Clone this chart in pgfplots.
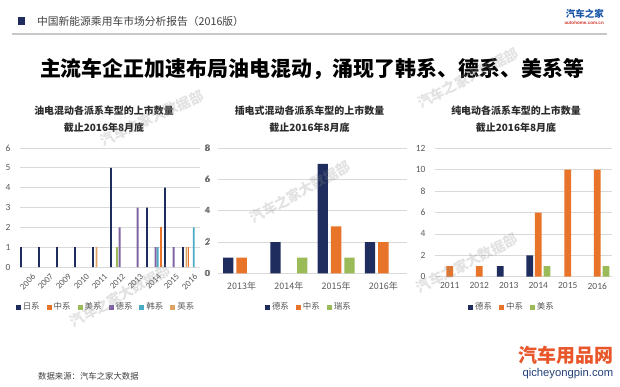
\documentclass[border=0pt]{standalone}
\usepackage{fontspec}
\setmainfont{Carlito}
\newfontfamily\cjk{Noto Sans CJK SC}
\newfontfamily\arialf{Liberation Sans}
\usepackage{pgfplots}
\pgfplotsset{compat=1.18}
\definecolor{cnavy}{HTML}{1F2D5E}
\definecolor{corange}{HTML}{E8742A}
\definecolor{cgreen}{HTML}{9BBB59}
\definecolor{cpurple}{HTML}{8064A2}
\definecolor{cteal}{HTML}{4BACC6}
\definecolor{ctan}{HTML}{DDA266}
\definecolor{cgrid}{HTML}{D9D9D9}
\definecolor{ctext}{HTML}{595959}
\definecolor{chead}{HTML}{404040}
\definecolor{ctitle}{HTML}{2B2B2B}
\definecolor{clogo}{HTML}{1A56A8}
\definecolor{cred}{HTML}{D03A2E}
\definecolor{cqc}{HTML}{E8562A}
\definecolor{cqcb}{HTML}{23407A}
\pgfplotsset{
  myaxis/.style={
    scale only axis,
    axis line style={draw=none},
    major tick length=0pt,
    ymajorgrids,
    grid style={draw=cgrid, line width=0.7bp},
    tick label style={font=\fontsize{9.5}{10}\selectfont, text=ctext},
    /pgf/number format/assume math mode=true,
    legend style={draw=none, fill=none, legend columns=-1,
      font=\fontsize{8.5}{9}\cjk, text=ctext,
      /tikz/every even column/.append style={column sep=5bp},
      inner sep=0pt},
    legend image code/.code={\fill[##1] (0bp,-2.6bp) rectangle (5bp,2.4bp);},
  },
}
\begin{document}
\begin{tikzpicture}[x=1bp,y=1bp]
\path[use as bounding box, fill=white] (0,0) rectangle (620,386);
\coordinate (LS) at (20,113);
\coordinate (LP) at (20,119);
\coordinate (MP) at (218,112.7);
\coordinate (RP) at (435,109.3);

% header
\fill[cnavy] (18,386-25.5) rectangle (25,386-17.5);
\node[anchor=west, inner sep=0, text=chead, font=\fontsize{10.8}{12}\cjk] at (37,386-21.5) {中国新能源乘用车市场分析报告（2016版）};
\draw[color=black!22, line width=1.3bp] (12,386-34) -- (607,386-34);
\node[anchor=east, inner sep=0, text=clogo, font=\fontsize{9.5}{10}\cjk\bfseries] at (604,386-14) {汽车之家};
\node[anchor=east, inner sep=0, text=cred, font=\fontsize{4.6}{5}\arialf\bfseries] at (604,386-22.5) {autohome.com.cn};

% title
\node[inner sep=0, text=black, font=\fontsize{21}{22}\cjk\bfseries] at (312,386-69.5) {主流车企正加速布局油电混动，涌现了韩系、德系、美系等};

% chart titles
\node[inner sep=0, align=center, text=ctitle, font=\fontsize{10}{17}\cjk\bfseries] at (104,386-119.5) {油电混动各派系车型的上市数量\\截止2016年8月底};
\node[inner sep=0, align=center, text=ctitle, font=\fontsize{10}{17}\cjk\bfseries] at (309.5,386-119.5) {插电式混动各派系车型的上市数量\\截止2016年8月底};
\node[inner sep=0, align=center, text=ctitle, font=\fontsize{10}{17}\cjk\bfseries] at (516,386-119.5) {纯电动各派系车型的上市数量\\截止2016年8月底};

% ---------- left chart, secondary axis labels ----------
\begin{axis}[myaxis,
  at={(LS)}, anchor=south west, width=180bp, height=125bp,
  xmin=-0.5, xmax=9.5, ymin=0, ymax=8,
  ymajorgrids=false,
  hide x axis, axis y line*=right,
  ytick={0,2,4,6,8},
  yticklabel style={xshift=2bp},
]
\end{axis}

% ---------- left chart ----------
\begin{axis}[myaxis,
  at={(LP)}, anchor=south west, width=180bp, height=119bp,
  xmin=-0.5, xmax=9.5, ymin=0, ymax=6,
  ytick={0,1,2,3,4,5,6},
  yticklabel style={xshift=-6bp},
  xtick={0,...,9},
  xticklabels={2006,2007,2009,2010,2011,2012,2013,2014,2015,2016},
  xticklabel style={rotate=45, anchor=north east, font=\fontsize{8.8}{9}\selectfont, xshift=1bp, yshift=-3bp},
  legend style={at={(0.478,-0.336)}, anchor=center},
]
% 日系
\addplot[ybar, bar width=1.8bp, bar shift=-8bp, fill=cnavy, draw=none]
  coordinates {(0,1) (1,1) (2,1) (3,1) (4,1) (5,5) (7,3) (8,4) (9,1)};
% 中系
\addplot[ybar, bar width=1.8bp, bar shift=6bp, fill=corange, draw=none]
  coordinates {(7,2)};
% 美系
\addplot[ybar, bar width=1.8bp, bar shift=-2bp, fill=cgreen, draw=none]
  coordinates {(5,1)};
% 德系
\addplot[ybar, bar width=1.8bp, bar shift=0.6bp, fill=cpurple, draw=none]
  coordinates {(5,2) (6,3) (7,1) (8,1)};
% 韩系
\addplot[ybar, bar width=1.8bp, bar shift=2.8bp, fill=cteal, draw=none]
  coordinates {(7,1) (9,2)};
% 英系
\addplot[ybar, bar width=1.8bp, bar shift=-4.6bp, fill=ctan, draw=none]
  coordinates {(4,1) (9,1)};
% 中系 2016
\addplot[ybar, bar width=1.8bp, bar shift=-2.6bp, fill=corange, draw=none, forget plot]
  coordinates {(9,1)};
\legend{日系,中系,美系,德系,韩系,英系}
\end{axis}

% ---------- middle chart ----------
\begin{axis}[myaxis,
  at={(MP)}, anchor=south west, width=189bp, height=125bp,
  xmin=-0.5, xmax=3.5, ymin=0, ymax=8,
  ytick={0,2,4,6,8},
  yticklabel style={xshift=-5bp},
  xtick={0,1,2,3},
  xticklabels={2013年,2014年,2015年,2016年},
  xticklabel style={font=\fontsize{9}{10}\cjk, yshift=-5bp},
  legend style={at={(0.481,-0.27)}, anchor=center},
]
\addplot[ybar, bar width=10.3bp, bar shift=-13.4bp, fill=cnavy, draw=none]
  coordinates {(0,1) (1,2) (2,7) (3,2)};
\addplot[ybar, bar width=10.3bp, bar shift=0bp, fill=corange, draw=none]
  coordinates {(0,1) (2,3) (3,2)};
\addplot[ybar, bar width=10.3bp, bar shift=13.4bp, fill=cgreen, draw=none]
  coordinates {(1,1) (2,1)};
\legend{德系,中系,瑞系}
\end{axis}

% ---------- right chart ----------
\begin{axis}[myaxis,
  at={(RP)}, anchor=south west, width=177bp, height=128.4bp,
  xmin=-0.5, xmax=5.5, ymin=0, ymax=12,
  ytick={0,2,4,6,8,10,12},
  yticklabel style={xshift=-6bp},
  xtick={0,...,5},
  xticklabels={2011,2012,2013,2014,2015,2016},
  xticklabel style={yshift=-2.5bp},
  legend style={at={(0.435,-0.236)}, anchor=center},
]
\addplot[ybar, bar width=6.7bp, bar shift=-8.5bp, fill=cnavy, draw=none]
  coordinates {(2,1) (3,2)};
\addplot[ybar, bar width=6.7bp, bar shift=0bp, fill=corange, draw=none]
  coordinates {(0,1) (1,1) (3,6) (4,10) (5,10)};
\addplot[ybar, bar width=6.7bp, bar shift=8.7bp, fill=cgreen, draw=none]
  coordinates {(3,1) (5,1)};
\legend{德系,中系,美系}
\end{axis}

% footer
\node[anchor=west, inner sep=0, text=chead, font=\fontsize{8.4}{9}\cjk] at (38,386-376.5) {数据来源：汽车之家大数据};
\node[anchor=east, inner sep=0, text=cqc, font=\fontsize{19}{20}\cjk\bfseries] at (613.5,386-355) {汽车用品网};
\node[anchor=east, inner sep=0, text=cqcb, font=\fontsize{11.3}{12}\arialf] at (613.5,386-373.5) {qicheyongpin.com};

% watermarks
\begin{scope}[every node/.style={inner sep=0, text=black!45, opacity=0.25, font=\fontsize{14}{14}\cjk\bfseries}]
\node[rotate=25] at (152,386-118) {汽车之家大数据部};
\node[rotate=29] at (300,386-192) {汽车之家大数据部};
\node[rotate=27] at (467,386-263) {汽车之家大数据部};
\node[rotate=29] at (120,386-296) {汽车之家大数据部};
\node[rotate=28] at (468,386-78) {汽车之家大数据部};
\end{scope}
\end{tikzpicture}
\end{document}
